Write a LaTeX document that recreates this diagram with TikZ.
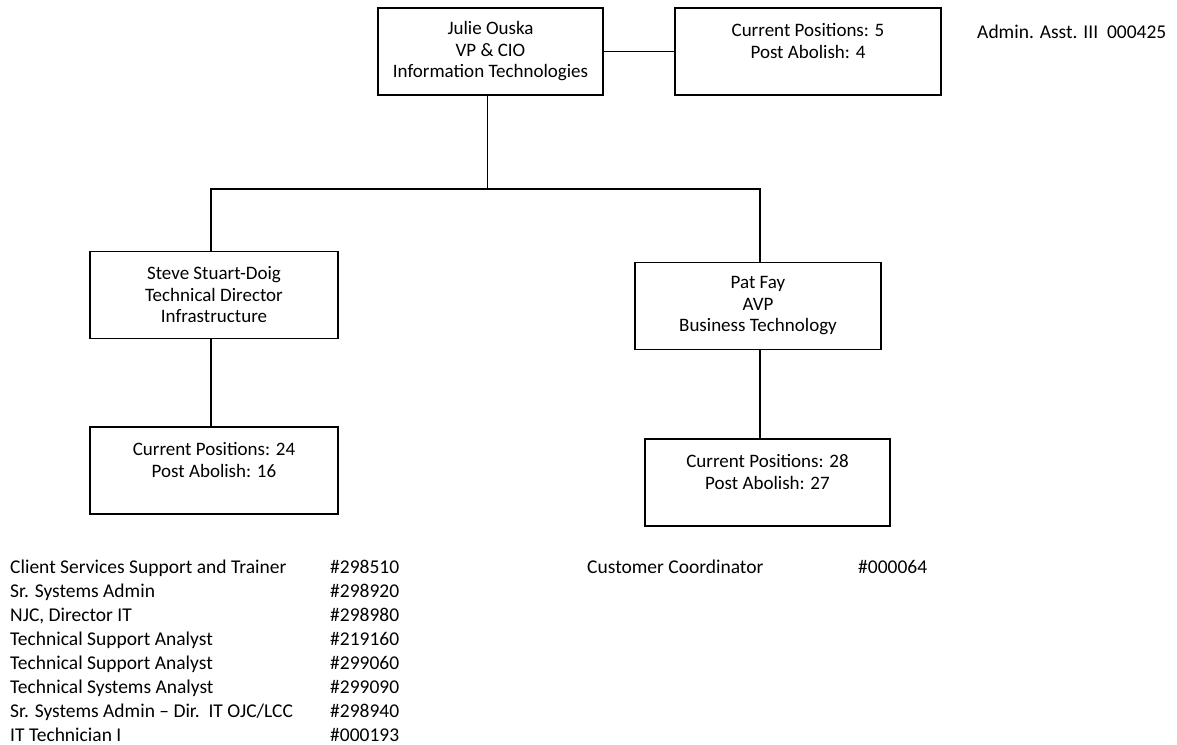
\documentclass[tikz,border=0pt]{standalone}
\usepackage{fontspec}
\setmainfont{Carlito}
\usepackage{tikz}
\usetikzlibrary{positioning,calc}
\tikzset{
  orgbox/.style={draw, line width=1.8pt, fill=white, align=center, inner sep=2pt,
                 minimum height=87pt, font=\fontsize{19}{21.5}\selectfont},
  orgline/.style={line width=1.8pt},
  listtext/.style={anchor=base west, inner sep=0pt, font=\fontsize{19.5}{21}\selectfont}
}
\begin{document}
\begin{tikzpicture}[x=1pt, y=-1pt]
    \useasboundingbox (0,0) rectangle (1177,744);

    % Top level
    \node[orgbox, minimum width=225pt] (julie) at (490.5,51.5)
      {Julie Ouska\\VP \& CIO\\Information Technologies};
    \node[orgbox, minimum width=266pt] (topcount) at (808,51.5)
      {Current Positions: 5\\Post Abolish: 4\\~};
    \node[listtext] (admin) at (977,38) {Admin. Asst. III\ \ 000425};

    % Second level
    \node[orgbox, minimum width=248pt] (steve) at (214,295)
      {Steve Stuart-Doig\\Technical Director\\Infrastructure};
    \node[orgbox, minimum width=246pt] (pat) at (758,306)
      {Pat Fay\\AVP\\Business Technology};

    % Position counts
    \node[orgbox, minimum width=248pt] (infracount) at (214,470.5)
      {Current Positions: 24\\Post Abolish: 16\\~};
    \node[orgbox, minimum width=245pt] (bizcount) at (767.5,482.5)
      {Current Positions: 28\\Post Abolish: 27\\~};

    % Connectors
    \coordinate (split) at ($(julie.south)+(-3,93)$);
    \draw[orgline] (julie.east) -- (topcount.west);
    \draw[orgline] ($(julie.south)+(-3,0)$) -- (split);
    \draw[orgline] ([xshift=-3pt]steve.north) |- (split) -| ([xshift=2pt]pat.north);
    \draw[orgline] ([xshift=-3pt]steve.south) -- ([xshift=-3pt]steve.south |- infracount.north);
    \draw[orgline] ([xshift=2pt]pat.south) -- ([xshift=2pt]pat.south |- bizcount.north);

    % Infrastructure positions
    \foreach \role/\num [count=\i] in {
        Client Services Support and Trainer/298510,
        Sr. Systems Admin/298920,
        {NJC, Director IT}/298980,
        Technical Support Analyst/219160,
        Technical Support Analyst/299060,
        Technical Systems Analyst/299090,
        {Sr. Systems Admin -- Dir.\ \ IT OJC/LCC}/298940,
        IT Technician I/000193}
    {
      \node[listtext] (role\i) at (10,549+24*\i) {\role};
      \node[listtext] (num\i) at (330,549+24*\i) {\#\num};
    }

    % Business Technology positions
    \node[listtext] (custrole) at (587,573) {Customer Coordinator};
    \node[listtext] (custnum) at (858,573) {\#000064};
\end{tikzpicture}
\end{document}
